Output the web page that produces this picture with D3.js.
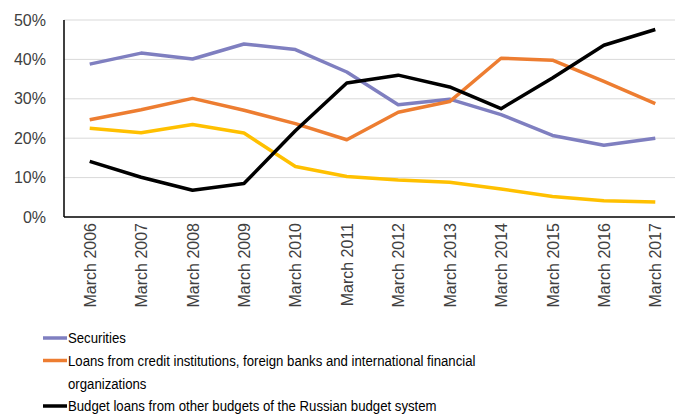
<!DOCTYPE html>
<meta charset="utf-8">
<style>
body { margin: 0; background: #fff; }
svg { display: block; }
.axis text { font: 16px "Liberation Sans", Arial, sans-serif; fill: #404040; }
.legend text { font: 15px "Liberation Sans", Arial, sans-serif; fill: #000; }
</style>
<body>
<script src="https://cdnjs.cloudflare.com/ajax/libs/d3/7.8.5/d3.min.js"></script>
<script>

var categories = ["March 2006", "March 2007", "March 2008", "March 2009", "March 2010", "March 2011",
                  "March 2012", "March 2013", "March 2014", "March 2015", "March 2016", "March 2017"];

var securities = [38.8, 41.6, 40.1, 43.9, 42.5, 36.8, 28.5, 29.9, 26.0, 20.7, 18.2, 20.0];
var loansCredit = [24.7, 27.2, 30.1, 27.1, 23.7, 19.6, 26.6, 29.3, 40.3, 39.8, 34.4, 28.8];
var budgetLoans = [14.1, 10.1, 6.8, 8.5, 21.9, 34.0, 36.0, 33.0, 27.5, 35.3, 43.6, 47.6];
var other = [22.5, 21.4, 23.5, 21.3, 12.8, 10.3, 9.4, 8.8, 7.1, 5.2, 4.1, 3.8];

var yTicks = [0, 10, 20, 30, 40, 50];

var series = [
  { name: "Securities", values: securities, color: "#7f7fc0" },
  { name: "Loans from credit institutions, foreign banks and international financial|organizations", values: loansCredit, color: "#ed7d31" },
  { name: "Budget loans from other budgets of the Russian budget system", values: budgetLoans, color: "#000000" },
  { name: "", values: other, color: "#ffc000" }
];

var width = 675, height = 415;
var plotLeft = 64, plotRight = 681, plotTop = 20, plotBottom = 217;

var svg = d3.select("body").append("svg")
    .attr("width", width)
    .attr("height", height);

var x = d3.scalePoint()
    .domain(categories)
    .range([plotLeft, plotRight])
    .padding(0.5);

var y = d3.scaleLinear()
    .domain([0, 50])
    .range([plotBottom, plotTop]);

// gridlines
svg.append("g")
  .selectAll("line")
    .data(yTicks.slice(1))
  .enter().append("line")
    .attr("x1", plotLeft)
    .attr("x2", plotRight)
    .attr("y1", function(d) { return y(d); })
    .attr("y2", function(d) { return y(d); })
    .style("stroke", "#d9d9d9")
    .style("stroke-width", 1);

var yAxis = svg.append("g")
    .attr("class", "axis")
    .attr("transform", "translate(" + plotLeft + ",0)")
    .call(d3.axisLeft(y).tickValues(yTicks).tickSize(0).tickPadding(18)
      .tickFormat(function(d) { return d + "%"; }));
yAxis.select(".domain").attr("d", "M0," + plotTop + "V" + plotBottom).style("stroke", "#000").style("stroke-width", 1.5);

var xAxis = svg.append("g")
    .attr("class", "axis")
    .attr("transform", "translate(0," + plotBottom + ")")
    .call(d3.axisBottom(x).tickSize(0));
xAxis.select(".domain").attr("d", "M" + plotLeft + ",0H" + plotRight).style("stroke", "#000").style("stroke-width", 1.5);
xAxis.selectAll(".tick text")
    .attr("transform", "rotate(-90)")
    .attr("x", -6)
    .attr("y", 0)
    .attr("dy", "0.35em")
    .style("text-anchor", "end");

var line = d3.line()
    .x(function(d, i) { return x(categories[i]); })
    .y(function(d) { return y(d); });

// draw order: yellow, purple, orange, black on top
[3, 0, 1, 2].forEach(function(k) {
  svg.append("path")
      .datum(series[k].values)
      .attr("d", line)
      .style("fill", "none")
      .style("stroke", series[k].color)
      .style("stroke-width", 3.5)
      .style("stroke-linejoin", "round");
});

// legend
var legend = svg.append("g").attr("class", "legend");
var rowY = [338, 360.5, 406];
series.slice(0, 3).forEach(function(s, i) {
  var g = legend.append("g").attr("transform", "translate(43," + rowY[i] + ")");
  g.append("line")
      .attr("x1", 0).attr("x2", 24)
      .style("stroke", s.color)
      .style("stroke-width", 3.5);
  var t = g.append("text")
      .attr("transform", "translate(25,0) scale(0.88,1)");
  s.name.split("|").forEach(function(part, j) {
    t.append("tspan").attr("x", 0).attr("dy", j === 0 ? "0.35em" : 23).text(part);
  });
});

</script>
